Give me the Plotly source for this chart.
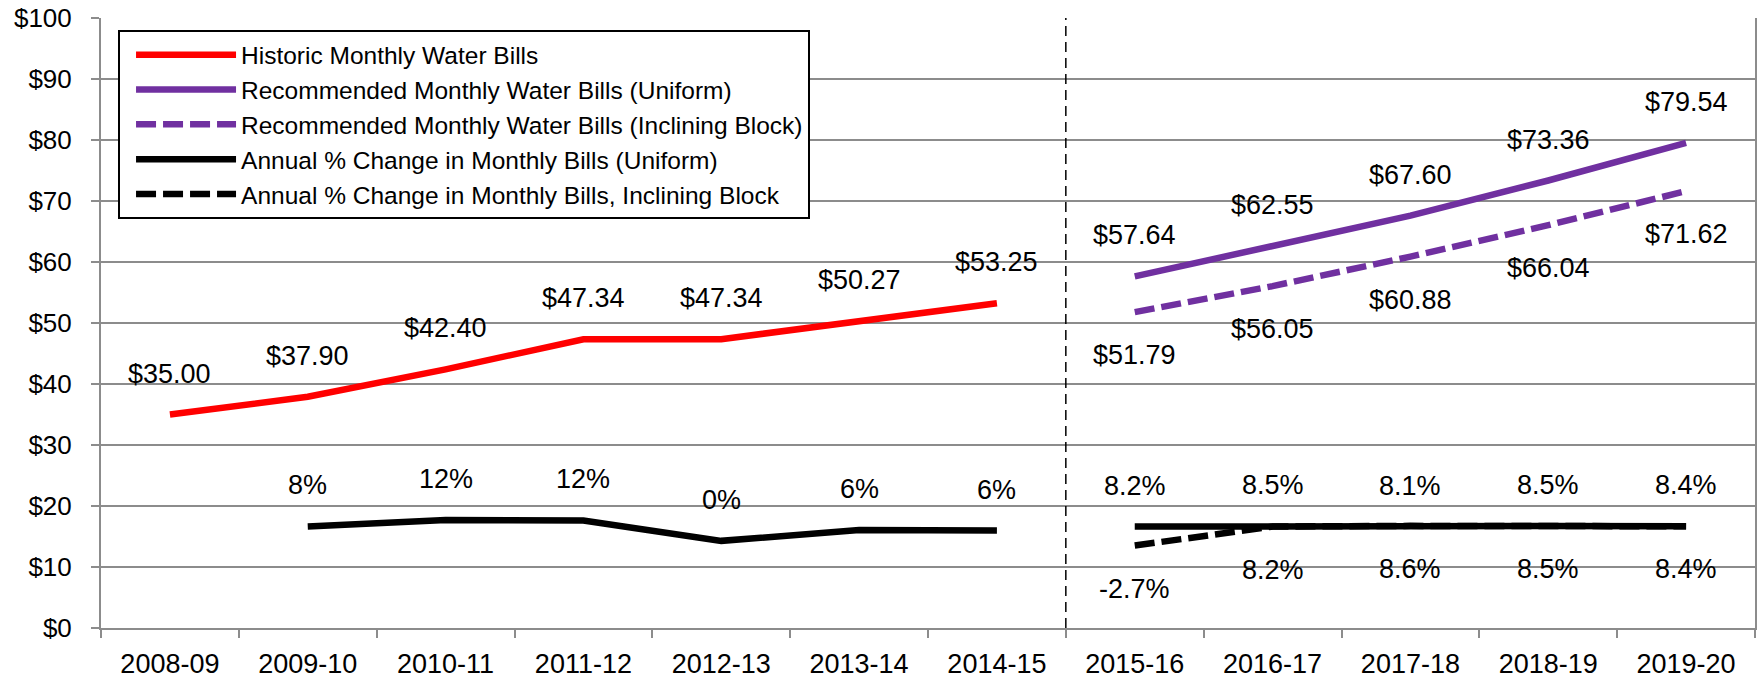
import plotly.graph_objects as go

categories = ["2008-09", "2009-10", "2010-11", "2011-12", "2012-13", "2013-14", "2014-15",
              "2015-16", "2016-17", "2017-18", "2018-19", "2019-20"]
hist_years = categories[:7]
proj_years = categories[7:]

historic_bills = [35.00, 37.90, 42.40, 47.34, 47.34, 50.27, 53.25]
uniform_bills = [57.64, 62.55, 67.60, 73.36, 79.54]
inclining_bills = [51.79, 56.05, 60.88, 66.04, 71.62]

hist_pct_years = categories[1:7]
hist_pct = [8.3, 11.9, 11.7, 0.0, 6.2, 5.9]
uniform_pct = [8.2, 8.5, 8.1, 8.5, 8.4]
inclining_pct = [-2.7, 8.2, 8.6, 8.5, 8.4]

FONT = "Liberation Sans, Arial, sans-serif"
RED = "#FF0000"
PURPLE = "#7030A0"
BLACK = "#000000"
GRID = "#8C8C8C"
LW = 6.5
DASH = "20px,7px"

fig = go.Figure()
fig.add_trace(go.Scatter(x=hist_years, y=historic_bills, mode="lines", legendgroup="a",
                         line=dict(color=RED, width=LW), name="Historic Monthly Water Bills"))
fig.add_trace(go.Scatter(x=proj_years, y=uniform_bills, mode="lines", legendgroup="b",
                         line=dict(color=PURPLE, width=LW),
                         name="Recommended Monthly Water Bills (Uniform)"))
fig.add_trace(go.Scatter(x=proj_years, y=inclining_bills, mode="lines", legendgroup="c",
                         line=dict(color=PURPLE, width=LW, dash=DASH),
                         name="Recommended Monthly Water Bills (Inclining Block)"))
fig.add_trace(go.Scatter(x=hist_pct_years, y=hist_pct, mode="lines", yaxis="y2", legendgroup="d",
                         line=dict(color=BLACK, width=LW),
                         name="Annual % Change in Monthly Bills (Uniform)"))
fig.add_trace(go.Scatter(x=proj_years, y=uniform_pct, mode="lines", yaxis="y2", legendgroup="d",
                         line=dict(color=BLACK, width=LW), showlegend=False,
                         name="Annual % Change in Monthly Bills (Uniform)"))
fig.add_trace(go.Scatter(x=proj_years, y=inclining_pct, mode="lines", yaxis="y2", legendgroup="e",
                         line=dict(color=BLACK, width=LW, dash=DASH),
                         name="Annual % Change in Monthly Bills, Inclining Block"))

ann = []
LBL = dict(size=27, color="black", family=FONT)
UP, DOWN = 41, -43
for x, v in zip(hist_years, historic_bills):
    ann.append(dict(x=x, y=v, yref="y", text=f"${v:.2f}", yshift=UP))
for x, v in zip(proj_years, uniform_bills):
    ann.append(dict(x=x, y=v, yref="y", text=f"${v:.2f}", yshift=UP))
for x, v in zip(proj_years, inclining_bills):
    ann.append(dict(x=x, y=v, yref="y", text=f"${v:.2f}", yshift=DOWN))
for x, v in zip(hist_pct_years, hist_pct):
    ann.append(dict(x=x, y=v, yref="y2", text=f"{v:.0f}%", yshift=UP))
for x, v in zip(proj_years, uniform_pct):
    ann.append(dict(x=x, y=v, yref="y2", text=f"{v:.1f}%", yshift=UP))
for x, v in zip(proj_years, inclining_pct):
    ann.append(dict(x=x, y=v, yref="y2", text=f"{v:.1f}%", yshift=DOWN))
for a in ann:
    a.update(xref="x", showarrow=False, font=LBL, xanchor="center", yanchor="middle")

fig.update_layout(
    template="none",
    width=1760, height=679,
    margin=dict(l=101, r=5, t=18, b=51, pad=0),
    paper_bgcolor="white", plot_bgcolor="white",
    font=dict(family=FONT, color="black"),
    showlegend=True,
    legend=dict(x=0.0103, y=0.98, xanchor="left", yanchor="top",
                bordercolor="black", borderwidth=2, bgcolor="white",
                font=dict(size=24.5, family=FONT, color="black"),
                itemwidth=100, traceorder="grouped", tracegroupgap=0, indentation=11),
    xaxis=dict(type="category", categoryorder="array", categoryarray=categories,
               range=[-0.5, 11.5], showgrid=False, showline=True, linecolor=GRID, linewidth=2,
               ticks="outside", tickson="boundaries", ticklen=8, tickcolor=GRID, tickwidth=2,
               tickfont=dict(size=27, family=FONT, color="black"), ticklabelstandoff=11,
               automargin=False, zeroline=False),
    yaxis=dict(range=[0, 100], dtick=10, tickprefix="$", showgrid=True, gridcolor=GRID,
               gridwidth=2, showline=True, linecolor=GRID, linewidth=2, mirror=True,
               ticks="outside", ticklen=8, tickcolor=GRID, tickwidth=2, zeroline=False,
               tickfont=dict(size=26, family=FONT, color="black"), ticklabelstandoff=14,
               automargin=False),
    yaxis2=dict(range=[-50, 300], overlaying="y", visible=False),
    annotations=ann,
    shapes=[dict(type="line", xref="x", yref="paper", x0=6.5, x1=6.5, y0=0, y1=1,
                 line=dict(color="black", width=1.5, dash="10px,6px"))],
)

fig.write_html(
    "out.html",
    config={"displayModeBar": False},
    post_script="document.body.style.margin='0';document.documentElement.style.overflow='hidden';",
)
